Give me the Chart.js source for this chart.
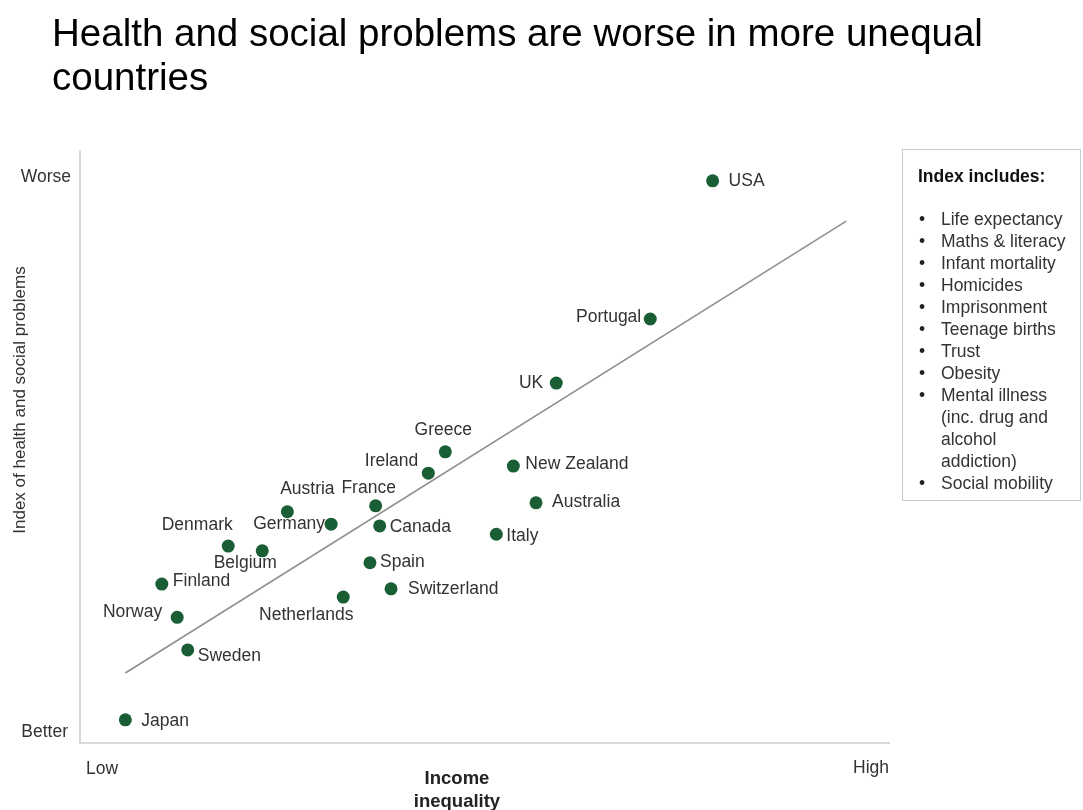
<!DOCTYPE html>
<html>
<head>
<meta charset="utf-8">
<script src="https://cdn.jsdelivr.net/npm/chart.js@4.4.1/dist/chart.umd.min.js"></script>
<style>
  html, body { margin: 0; padding: 0; background: #ffffff; }
  #wrap { position: relative; width: 1083px; height: 810px; overflow: hidden;
          font-family: "Liberation Sans", Arial, sans-serif; color: #262626; }
  #chart { position: absolute; left: 0; top: 0; }
  .title { position: absolute; left: 52px; top: 11px; font-size: 38.5px; line-height: 44px; color: #000; white-space: nowrap; }
  .lab { position: absolute; font-size: 17.5px; line-height: 22px; white-space: nowrap; color: #333; }
  .xtitle { position: absolute; left: 357px; width: 200px; top: 766px; text-align: center;
            font-weight: bold; font-size: 18.5px; line-height: 23px; color: #222; }
  .ytitle { position: absolute; left: -180px; top: 389px; width: 400px; text-align: center;
            font-size: 17px; line-height: 22px; color: #333; transform: rotate(-90deg); }
  .box { position: absolute; left: 902px; top: 149px; width: 179px; height: 352px;
         border: 1.5px solid #c9c9c9; box-sizing: border-box; }
  .box h4 { margin: 0; position: absolute; left: 15px; top: 15px; font-size: 17.5px; line-height: 22px; font-weight: bold; color: #111; }
  .box ul { list-style: none; margin: 0; padding: 0; position: absolute; left: 0; top: 58px; }
  .box li { position: relative; padding-left: 38px; font-size: 17.5px; line-height: 22px; color: #333; white-space: nowrap; }
  .box li::before { content: "\2022"; position: absolute; left: 16px; top: 0; color: #222; }
</style>
</head>
<body>
<div id="wrap">
  <canvas id="chart" width="1083" height="810"></canvas>
  <div class="title">Health and social problems are worse in more unequal<br>countries</div>
  <div class="ytitle">Index of health and social problems</div>
  <div class="lab" style="right:1012px; top:165px;">Worse</div>
  <div class="lab" style="right:1015px; top:720px;">Better</div>
  <div class="lab" style="left:86px; top:757px;">Low</div>
  <div class="lab" style="left:853px; top:756px;">High</div>
  <div class="xtitle">Income<br>inequality</div>
  <div class="box">
    <h4>Index includes:</h4>
    <ul id="items"></ul>
  </div>
</div>
<script>
// Countries and their position on the two indices (0 = low/better, 100 = high/worse)
const countries = ["USA","Portugal","UK","Greece","Ireland","New Zealand","Australia","France",
  "Austria","Germany","Canada","Italy","Denmark","Belgium","Spain","Finland","Switzerland",
  "Netherlands","Norway","Sweden","Japan"];
const incomeInequality = [78.1,70.4,58.8,45.1,43.0,53.5,56.3,36.5,25.6,31.0,37.0,51.4,18.3,22.5,35.8,10.1,38.4,32.5,12.0,13.3,5.6];
const healthSocialIndex = [94.8,71.5,60.7,49.1,45.5,46.7,40.5,40.0,39.0,36.9,36.6,35.2,33.2,32.4,30.4,26.8,26.0,24.6,21.2,15.7,3.9];

// Fitted trend line end points
const trendX = [5.6, 94.6];
const trendY = [11.8, 88.0];

// Components of the index
const indexItems = ["Life expectancy","Maths & literacy","Infant mortality","Homicides","Imprisonment",
  "Teenage births","Trust","Obesity","Mental illness\n(inc. drug and\nalcohol\naddiction)","Social mobility"];

// Where each country's name sits relative to its dot: [dx, dy, align]
const labelPlacement = {
  "USA":[16,0,"left"], "Portugal":[-9,-2,"right"], "UK":[-13,0,"right"], "Greece":[-2,-22,"center"],
  "Ireland":[-10,-12,"right"], "New Zealand":[12,-2,"left"], "Australia":[16,-1,"left"],
  "France":[-7,-18,"center"], "Austria":[20,-23,"center"], "Germany":[-6,0,"right"],
  "Canada":[10,1,"left"], "Italy":[10,2,"left"], "Denmark":[-31,-21,"center"],
  "Belgium":[-17,12,"center"], "Spain":[10,-1,"left"], "Finland":[11,-3,"left"],
  "Switzerland":[17,0,"left"], "Netherlands":[-37,18,"center"], "Norway":[-15,-5,"right"],
  "Sweden":[10,6,"left"], "Japan":[16,1,"left"]
};

const ul = document.getElementById('items');
indexItems.forEach(t => {
  const li = document.createElement('li');
  li.innerHTML = t.split('\n').join('<br>');
  ul.appendChild(li);
});

const points = countries.map((c, i) => ({ x: incomeInequality[i], y: healthSocialIndex[i] }));
const trend = trendX.map((x, i) => ({ x: x, y: trendY[i] }));

const axesAndLabels = {
  id: 'axesAndLabels',
  beforeDatasetsDraw(chart) {
    const { ctx, chartArea: a } = chart;
    ctx.save();
    ctx.strokeStyle = '#d9d9d9';
    ctx.lineWidth = 2;
    ctx.beginPath();
    ctx.moveTo(a.left, a.top);
    ctx.lineTo(a.left, a.bottom);
    ctx.lineTo(a.right, a.bottom);
    ctx.stroke();
    ctx.restore();
  },
  afterDatasetsDraw(chart) {
    const { ctx } = chart;
    const meta = chart.getDatasetMeta(1);
    ctx.save();
    ctx.font = '17.5px "Liberation Sans", Arial, sans-serif';
    ctx.fillStyle = '#333333';
    ctx.textBaseline = 'middle';
    meta.data.forEach((el, i) => {
      const p = labelPlacement[countries[i]];
      ctx.textAlign = p[2];
      ctx.fillText(countries[i], el.x + p[0], el.y + p[1]);
    });
    ctx.restore();
  }
};

new Chart(document.getElementById('chart'), {
  type: 'scatter',
  data: {
    datasets: [
      {
        type: 'line', data: trend, borderColor: '#8f8f8f', borderWidth: 1.6,
        pointRadius: 0, fill: false, tension: 0
      },
      {
        data: points, backgroundColor: '#195e34', borderColor: '#195e34',
        pointRadius: 6.5, pointHoverRadius: 6.5, borderWidth: 0
      }
    ]
  },
  options: {
    responsive: false,
    animation: false,
    layout: { padding: { left: 80, right: 193, top: 150, bottom: 67 } },
    plugins: { legend: { display: false }, tooltip: { enabled: false } },
    scales: {
      x: { type: 'linear', min: 0, max: 100, display: false },
      y: { type: 'linear', min: 0, max: 100, display: false }
    }
  },
  plugins: [axesAndLabels]
});
</script>
</body>
</html>
